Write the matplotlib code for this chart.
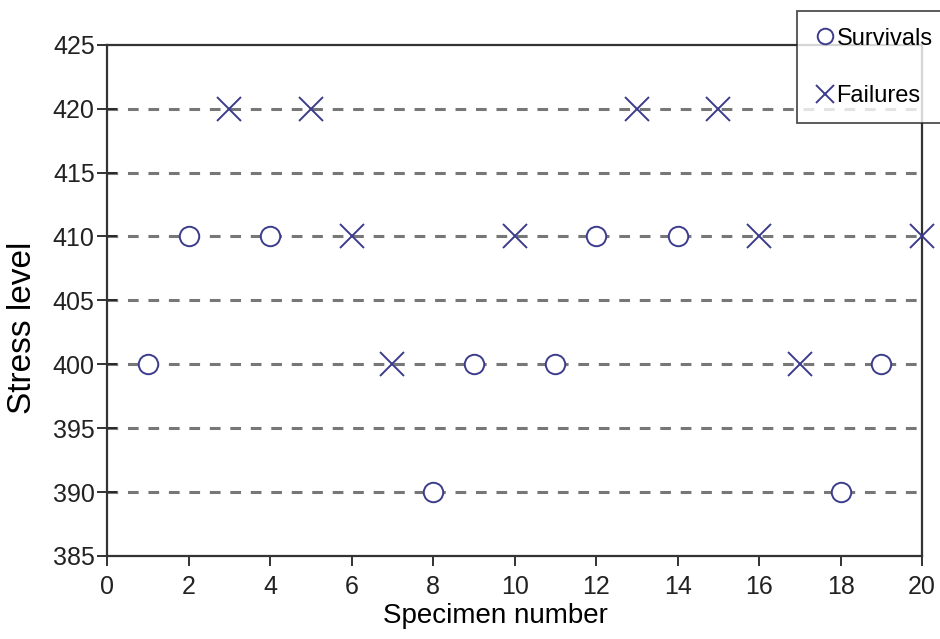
import matplotlib
matplotlib.use("Agg")
import matplotlib.pyplot as plt

plt.rcParams['font.family'] = ['Liberation Sans', 'DejaVu Sans']

# survivals (open circles)
surv_x = [1, 2, 4, 8, 9, 11, 12, 14, 18, 19]
surv_y = [400, 410, 410, 390, 400, 400, 410, 410, 390, 400]

# failures (crosses)
fail_x = [3, 5, 6, 7, 10, 13, 15, 16, 17, 20]
fail_y = [420, 420, 410, 400, 410, 420, 420, 410, 400, 410]

grid_levels = [390, 395, 400, 405, 410, 415, 420]
marker_col = '#3c3c8c'

fig = plt.figure(figsize=(9.4, 6.39), dpi=100)
ax = fig.add_axes([0.114, 0.130, 0.867, 0.800])

for lv in grid_levels:
    ax.axhline(lv, color='#777777', lw=2.2, ls=(0, (3.5, 3.2)), zorder=1)

ax.plot(surv_x, surv_y, 'o', ms=14, mfc='white', mec=marker_col, mew=1.4,
        ls='none', label='Survivals', zorder=3, clip_on=False)
ax.plot(fail_x, fail_y, 'x', ms=17, color=marker_col, mew=1.4,
        ls='none', label='Failures', zorder=3, clip_on=False)

ax.set_xlim(0, 20)
ax.set_ylim(385, 425)
ax.set_xticks(range(0, 21, 2))
ax.set_yticks(range(385, 426, 5))
ax.tick_params(labelsize=18, direction='out', length=7, width=1.3,
               colors='#222222', pad=7)
ax.tick_params(axis='y', direction='inout', length=14, pad=2)
for s in ax.spines.values():
    s.set_linewidth(1.6)
    s.set_color('#333333')

ax.set_xlabel('Specimen number', fontsize=20)
ax.set_ylabel('Stress level', fontsize=24)
ax.xaxis.set_label_coords(0.476, -0.092)
ax.yaxis.set_label_coords(-0.085, 0.446)

leg = ax.legend(loc='upper left', bbox_to_anchor=(0.847, 1.066), fontsize=17,
                frameon=True, fancybox=False, edgecolor='#222222',
                handletextpad=0.05, handlelength=0.9, borderpad=0.7,
                labelspacing=1.5, markerscale=0.8, borderaxespad=0)
leg.get_frame().set_linewidth(1.3)

fig.savefig('out.png', dpi=100)
